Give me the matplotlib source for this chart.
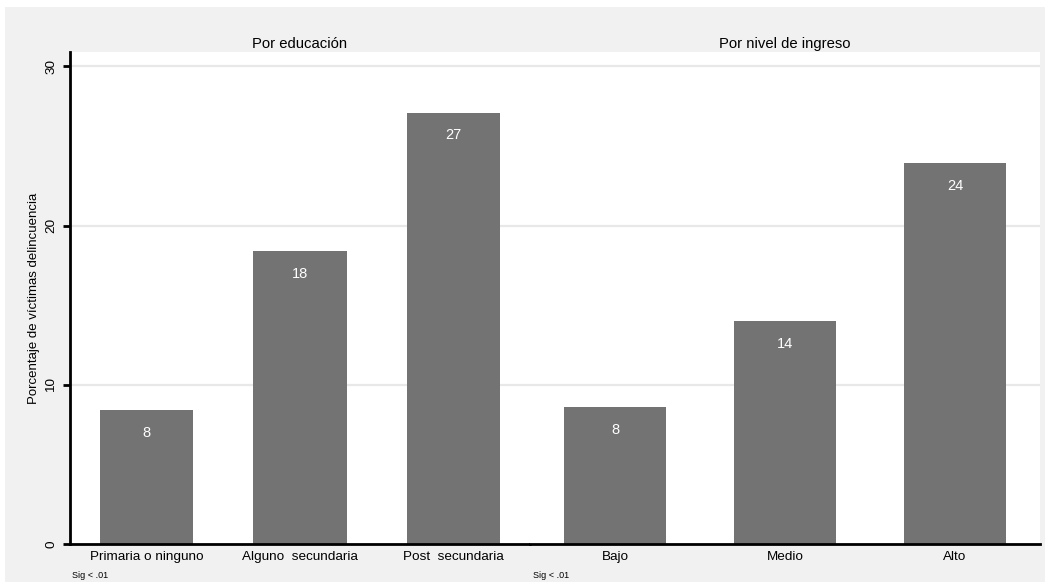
import numpy as np
import matplotlib
matplotlib.use("Agg")
import matplotlib.pyplot as plt
from matplotlib.patches import Rectangle

plt.rcParams['font.family'] = ['Liberation Sans', 'DejaVu Sans']

# data
edu_labels = ["Primaria o ninguno", "Alguno  secundaria", "Post  secundaria"]
edu_values = [8.4, 18.4, 27.1]
edu_text = ["8", "18", "27"]
ing_labels = ["Bajo", "Medio", "Alto"]
ing_values = [8.6, 14.0, 23.9]
ing_text = ["8", "14", "24"]
titles = ["Por educación", "Por nivel de ingreso"]
yticks = [0, 10, 20, 30]
note = "Sig < .01"

W, H = 1045, 582
fig = plt.figure(figsize=(W/100, H/100), dpi=100, facecolor="white")
fig.patches.append(Rectangle((5/W, 0), 1, 1-7/H, transform=fig.transFigure,
                             facecolor="#f1f1f1", edgecolor="none", zorder=-10))

bot = 1-544/H
hgt = (544-52)/H
ax1 = fig.add_axes([70/W, bot, 460/W, hgt])
ax2 = fig.add_axes([530/W, bot, 510/W, hgt])

barcol = "#737373"
for ax, labs, vals, txt, ttl, bw in [(ax1, edu_labels, edu_values, edu_text, titles[0], 0.61),
                                    (ax2, ing_labels, ing_values, ing_text, titles[1], 0.6)]:
    ax.set_facecolor("white")
    x = np.arange(len(labs)) + 0.5
    ax.set_xlim(0, 3)
    ax.set_ylim(0, 30.9)
    ax.set_axisbelow(True)
    for t in yticks[1:]:
        ax.axhline(t, color="#e8e8e8", lw=1.6, zorder=0)
    ax.bar(x, vals, width=bw, color=barcol, zorder=2)
    for xi, v, s in zip(x, vals, txt):
        ax.annotate(s, (xi, v), xytext=(0, -16.5), textcoords="offset points",
                    ha="center", va="center", color="white", fontsize=10.5)
    ax.set_xticks(x)
    ax.set_xticklabels(labs, fontsize=9.7)
    ax.tick_params(axis="x", length=0, pad=5)
    ax.set_title(ttl, fontsize=10.7, pad=3)
    for s in ["top", "right"]:
        ax.spines[s].set_visible(False)
    ax.spines["bottom"].set_linewidth(2)
    ax.spines["bottom"].set_color("black")

ax1.spines["left"].set_linewidth(2)
ax1.set_yticks(yticks)
ax1.set_yticklabels([str(t) for t in yticks], rotation=90, va="center", fontsize=9.7)
ax1.tick_params(axis="y", length=5, width=2, pad=4)
ax1.set_ylabel("Porcentaje de víctimas delincuencia", fontsize=9.5, labelpad=4)

ax2.spines["left"].set_visible(False)
ax2.set_yticks([])

fig.text(72/W, 1-575/H, note, fontsize=6.5, va="center")
fig.text(533/W, 1-575/H, note, fontsize=6.5, va="center")

fig.savefig("out.png", dpi=100, facecolor=fig.get_facecolor())
